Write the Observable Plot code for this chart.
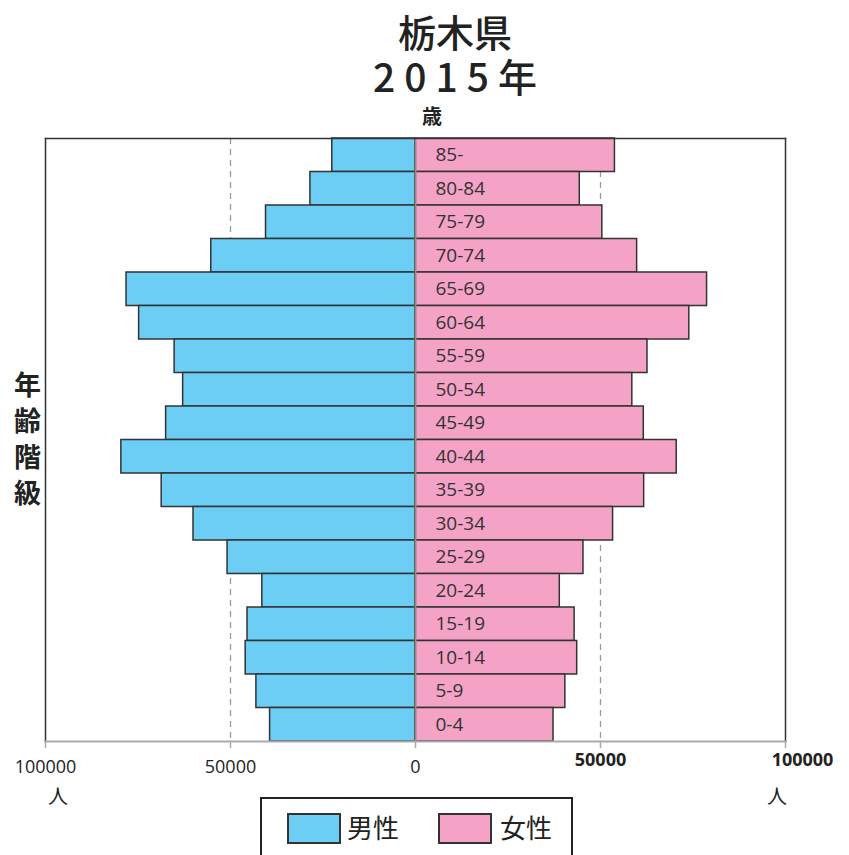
<!DOCTYPE html>
<html lang="ja">
<head>
<meta charset="utf-8">
<script src="https://cdn.jsdelivr.net/npm/d3@7"></script>
<script src="https://cdn.jsdelivr.net/npm/@observablehq/plot@0.6"></script>
<style>
  body { margin: 0; background: #fff; }
  #wrap { position: relative; width: 849px; height: 855px; overflow: hidden;
          font-family: "Noto Sans CJK JP", "Noto Sans", sans-serif; color: #222; }
  #plot { position: absolute; left: 0; top: 0; }
  .abs { position: absolute; white-space: nowrap; line-height: 1; }
  .title { left: 455px; top: 8px; transform: translateX(-50%); text-align: center;
           font-size: 38px; font-weight: 500; line-height: 45px; }
  .title .yr { letter-spacing: 9px; margin-right: -9px; font-size: 39px; }
  .sai { left: 432px; top: 106px; transform: translateX(-50%); font-size: 20px; font-weight: 700; }
  .ylab { left: 14px; top: 366px; font-size: 27px; font-weight: 700; line-height: 36px; white-space: normal; width: 30px; }
  .nin { top: 786px; font-size: 20px; }
  .legend { left: 260px; top: 797px; width: 309px; height: 80px; border: 2.5px solid #222; }
  .sw { position: absolute; top: 14px; width: 50px; height: 27px; border: 2px solid #333; }
  .lt { position: absolute; top: 13px; font-size: 26px; line-height: 30px; }
</style>
</head>
<body>
<div id="wrap">
  <div class="abs title">栃木県<br><span class="yr">2015年</span></div>
  <div class="abs sai">歳</div>
  <div class="abs ylab">年 齢 階 級</div>
  <div id="plot"></div>
  <div class="abs nin" style="left:48px">人</div>
  <div class="abs nin" style="left:767px">人</div>
  <div class="abs legend" id="legend"></div>
</div>
<script>
// 年齢階級（上が高齢）
const ageGroups = ["85-", "80-84", "75-79", "70-74", "65-69", "60-64", "55-59", "50-54", "45-49",
                   "40-44", "35-39", "30-34", "25-29", "20-24", "15-19", "10-14", "5-9", "0-4"];
// 男性人口（人）
const male = [22500, 28400, 40400, 55200, 78100, 74700, 65100, 62800, 67400,
              79500, 68600, 60000, 50800, 41400, 45400, 45900, 43000, 39300];
// 女性人口（人）
const female = [53900, 44400, 50500, 59900, 78800, 74000, 62700, 58600, 61700,
                70600, 61800, 53400, 45400, 39000, 43000, 43700, 40500, 37300];
// 横軸の目盛
const tickValues = [-100000, -50000, 0, 50000, 100000];
const tickLabels = ["100000", "50000", "0", "50000", "100000"];
const gridValues = [-50000, 50000];
// 凡例
const seriesNames = ["男性", "女性"];
const seriesColors = ["#6ccef5", "#f4a3c6"];

const rows = ageGroups.map((age, i) => ({age, male: male[i], female: female[i]}));
const ticks = tickValues.map((v, i) => ({v, label: tickLabels[i]}));

const chart = Plot.plot({
  width: 849,
  height: 790,
  marginTop: 138,
  marginBottom: 49,
  marginLeft: 45,
  marginRight: 64,
  style: {fontFamily: "'Open Sans', sans-serif", background: "transparent", overflow: "visible"},
  x: {domain: [-100000, 100000], axis: null},
  y: {domain: ageGroups, axis: null, padding: 0, round: false},
  marks: [
    Plot.ruleX(gridValues, {stroke: "#9a9a9a", strokeWidth: 1.3, strokeDasharray: "6,5"}),
    Plot.barX(rows, {y: "age", x1: 0, x2: d => -d.male, fill: seriesColors[0], stroke: "#333", strokeWidth: 1.5}),
    Plot.barX(rows, {y: "age", x1: 0, x2: "female", fill: seriesColors[1], stroke: "#333", strokeWidth: 1.5}),
    Plot.ruleX([0], {stroke: "#8c8c8c", strokeWidth: 2}),
    Plot.text(rows, {y: "age", x: 0, text: "age", dx: 20, textAnchor: "start", fontSize: 19, fill: "#333"}),
    Plot.frame({anchor: "left", stroke: "#333", strokeWidth: 1.5}),
    Plot.frame({anchor: "top", stroke: "#333", strokeWidth: 1.5}),
    Plot.frame({anchor: "right", stroke: "#333", strokeWidth: 1.5}),
    Plot.frame({anchor: "bottom", stroke: "#aaa", strokeWidth: 2}),
    Plot.axisX({ticks: tickValues, tickSize: 7, tickFormat: () => "", stroke: "#aaa", strokeWidth: 1.5}),
    Plot.text(ticks.filter(d => d.v <= 0), {x: "v", text: "label", frameAnchor: "bottom", dy: 31, fontSize: 18, fill: "#222"}),
    Plot.text(ticks.filter(d => d.v === 50000), {x: "v", text: "label", frameAnchor: "bottom", dy: 24, fontSize: 18, fontWeight: "bold", fill: "#222"}),
    Plot.text(ticks.filter(d => d.v === 100000), {x: "v", text: "label", frameAnchor: "bottom", dy: 24, dx: 17, fontSize: 18, fontWeight: "bold", fill: "#222"})
  ]
});
document.getElementById("plot").appendChild(chart);

// 凡例
const legend = document.getElementById("legend");
const swLeft = [25, 176], txtLeft = [85, 238];
seriesNames.forEach((name, i) => {
  const sw = document.createElement("div");
  sw.className = "sw";
  sw.style.left = swLeft[i] + "px";
  sw.style.background = seriesColors[i];
  legend.appendChild(sw);
  const t = document.createElement("div");
  t.className = "lt";
  t.style.left = txtLeft[i] + "px";
  t.textContent = name;
  legend.appendChild(t);
});
</script>
</body>
</html>
